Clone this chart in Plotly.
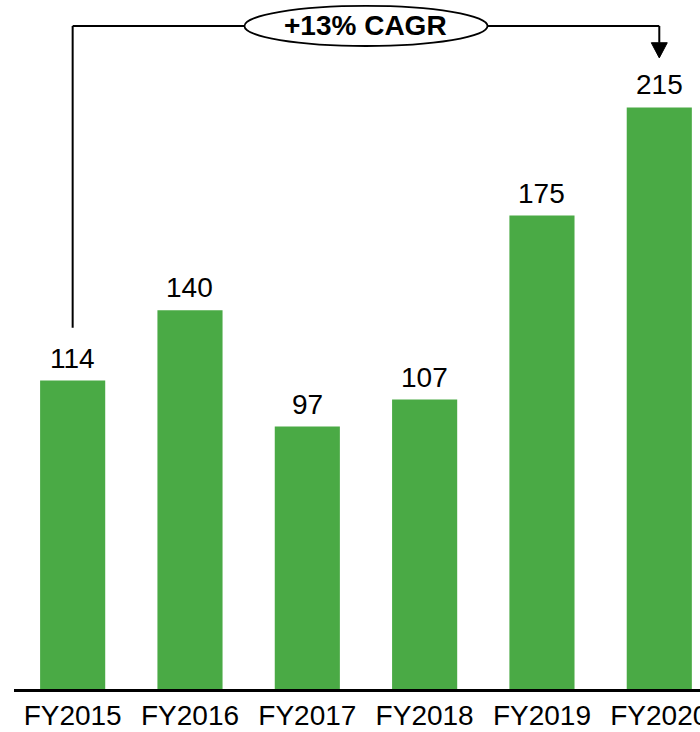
import plotly.graph_objects as go

categories = ["FY2015", "FY2016", "FY2017", "FY2018", "FY2019", "FY2020"]
values = [114, 140, 97, 107, 175, 215]
cagr_label = "+13% CAGR"

GREEN = "#4AAA45"
FONT = "Liberation Sans, Arial, sans-serif"

fig = go.Figure()
fig.add_trace(go.Bar(
    x=list(range(len(categories))),
    y=values,
    width=0.555,
    marker=dict(color=GREEN, line=dict(width=0)),
    hoverinfo="skip",
))

# value labels
for i, v in enumerate(values):
    fig.add_annotation(x=i, y=v, text=str(v), showarrow=False,
                       xref="x", yref="y", yanchor="bottom", yshift=5,
                       font=dict(family=FONT, size=28, color="black"))

# CAGR bracket
top_y = 245.1
first, last = 0, len(values) - 1
start_y = values[first] + 19.5
tip_y = values[last] + 18.3
head_h = 5.6
head_w = 0.068
line = dict(color="black", width=2)
fig.add_shape(type="line", xref="x", yref="y", x0=first, x1=first, y0=start_y, y1=top_y, line=line)
fig.add_shape(type="line", xref="x", yref="y", x0=first, x1=last, y0=top_y, y1=top_y, line=line)
fig.add_shape(type="line", xref="x", yref="y", x0=last, x1=last, y0=top_y, y1=tip_y + head_h, line=line)
fig.add_shape(type="path", xref="x", yref="y",
              path=f"M {last-head_w},{tip_y+head_h} L {last+head_w},{tip_y+head_h} L {last},{tip_y} Z",
              fillcolor="black", line=dict(color="black", width=1))
mid = (first + last) / 2
fig.add_shape(type="circle", xref="x", yref="y",
              x0=mid - 1.036, x1=mid + 1.036, y0=top_y - 7.4, y1=top_y + 7.4,
              fillcolor="white", line=dict(color="black", width=1.8))
fig.add_annotation(x=mid, y=top_y, text=f"<b>{cagr_label}</b>", showarrow=False,
                   xref="x", yref="y", yanchor="middle",
                   font=dict(family=FONT, size=28, color="black"))

fig.update_layout(
    width=700, height=732,
    margin=dict(l=14, r=0, t=0, b=43),
    plot_bgcolor="white", paper_bgcolor="white",
    showlegend=False,
    bargap=0.445,
)
fig.update_xaxes(
    range=[-0.5, 5.347],
    tickmode="array", tickvals=list(range(len(categories))), ticktext=categories,
    showline=True, linecolor="black", linewidth=2.5,
    showgrid=False, zeroline=False, ticks="",
    tickfont=dict(family=FONT, size=28, color="black"),
    ticklabeloverflow="allow",
    automargin=False,
)
fig.update_yaxes(range=[0, 254.7], visible=False, showgrid=False, zeroline=False)

fig.write_html("out.html")
